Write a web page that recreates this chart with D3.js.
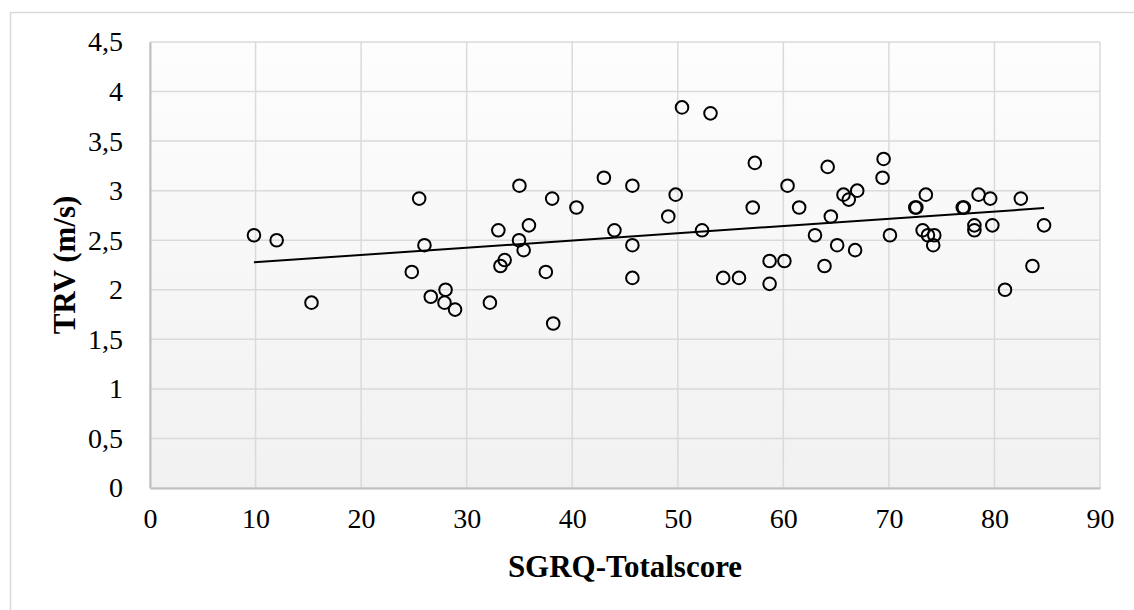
<!DOCTYPE html>
<html>
<head>
<meta charset="utf-8">
<script src="https://cdn.jsdelivr.net/npm/d3@7"></script>
<style>
  body { margin: 0; background: #fff; }
  svg { display: block; }
  text.serif { font-family: 'Liberation Serif', 'Times New Roman', Times, 'DejaVu Serif', serif; }
</style>
</head>
<body>
<div id="chart"></div>
<script>
'use strict';

// data: SGRQ total score vs TRV
const sgrq = [9.85, 12.0, 15.3, 24.8, 25.5, 26.0, 26.6, 28.0, 27.9, 28.9,
  32.2, 33.0, 33.2, 33.6, 35.0, 34.96, 35.4, 35.9, 37.5, 38.1,
  38.2, 40.4, 43.0, 44.0, 45.7, 45.7, 45.7, 49.1, 49.8, 50.4,
  52.3, 53.1, 54.3, 55.8, 57.1, 57.3, 58.7, 58.7, 60.1, 60.4,
  61.5, 63.0, 63.9, 64.2, 64.5, 65.1, 65.7, 66.2, 66.8, 67.0,
  69.4, 69.5, 70.1, 72.5, 72.6, 73.2, 73.5, 73.7, 74.3, 74.2,
  77.0, 77.1, 78.1, 78.1, 78.5, 79.6, 79.8, 81.0, 82.5, 83.6, 84.7];
const trv = [2.55, 2.50, 1.87, 2.18, 2.92, 2.45, 1.93, 2.00, 1.87, 1.80,
  1.87, 2.60, 2.24, 2.30, 3.05, 2.50, 2.40, 2.65, 2.18, 2.92,
  1.66, 2.83, 3.13, 2.60, 3.05, 2.45, 2.12, 2.74, 2.96, 3.84,
  2.60, 3.78, 2.12, 2.12, 2.83, 3.28, 2.29, 2.06, 2.29, 3.05,
  2.83, 2.55, 2.24, 3.24, 2.74, 2.45, 2.96, 2.91, 2.40, 3.00,
  3.13, 3.32, 2.55, 2.83, 2.83, 2.60, 2.96, 2.55, 2.55, 2.45,
  2.83, 2.83, 2.65, 2.60, 2.96, 2.92, 2.65, 2.00, 2.92, 2.24, 2.65];

// linear trendline as drawn in the picture
const trendSlope = 0.00731;
const trendIntercept = 2.205;

const xTicks = [0, 10, 20, 30, 40, 50, 60, 70, 80, 90];
const yTicks = [0, 0.5, 1, 1.5, 2, 2.5, 3, 3.5, 4, 4.5];

const xTitle = 'SGRQ-Totalscore';
const yTitle = 'TRV (m/s)';

//layout
const width = 1134;
const height = 610;
const plot = { left: 150, top: 42, right: 1100, bottom: 488 };

const svg = d3.select('#chart')
  .append('svg')
  .attr('width', width)
  .attr('height', height);

// gradient for the plot area background
const defs = svg.append('defs');
const grad = defs.append('linearGradient')
  .attr('id', 'plotBg')
  .attr('x1', 0).attr('y1', 0).attr('x2', 0).attr('y2', 1);
grad.append('stop').attr('offset', '0%').attr('stop-color', '#fdfdfd');
grad.append('stop').attr('offset', '100%').attr('stop-color', '#f1f1f1');

// outer chart border (runs off right and bottom)
svg.append('rect')
  .attr('x', 10.5).attr('y', 12.5)
  .attr('width', width).attr('height', height)
  .attr('fill', '#fff')
  .attr('stroke', '#d9d9d9')
  .attr('stroke-width', 1.5);

const x = d3.scaleLinear().domain([0, 90]).range([plot.left, plot.right]);
const y = d3.scaleLinear().domain([0, 4.5]).range([plot.bottom, plot.top]);

const locale = d3.formatLocale({ decimal: ',', thousands: '.', grouping: [3], currency: ['', ''] });
const fmt = locale.format('~g');

svg.append('rect')
  .attr('x', plot.left).attr('y', plot.top)
  .attr('width', plot.right - plot.left)
  .attr('height', plot.bottom - plot.top)
  .attr('fill', 'url(#plotBg)');

// gridlines
const grid = svg.append('g').attr('class', 'grid');
grid.selectAll('line.v').data(xTicks).enter().append('line')
  .attr('x1', d => x(d)).attr('x2', d => x(d))
  .attr('y1', plot.top).attr('y2', plot.bottom)
  .attr('stroke', '#dadada').attr('stroke-width', 1.5);
grid.selectAll('line.h').data(yTicks).enter().append('line')
  .attr('x1', plot.left).attr('x2', plot.right)
  .attr('y1', d => y(d)).attr('y2', d => y(d))
  .attr('stroke', '#dadada').attr('stroke-width', 1.5);

// axes with comma decimals
const xAxis = d3.axisBottom(x).tickValues(xTicks).tickSize(0).tickPadding(20).tickFormat(fmt);
const yAxis = d3.axisLeft(y).tickValues(yTicks).tickSize(0).tickPadding(27).tickFormat(fmt);

const gx = svg.append('g')
  .attr('transform', `translate(0, ${plot.bottom})`)
  .call(xAxis);
const gy = svg.append('g')
  .attr('transform', `translate(${plot.left}, 0)`)
  .call(yAxis);

[gx, gy].forEach(g => {
  g.attr('font-family', null).attr('font-size', null);
  g.select('.domain').attr('stroke', '#bfbfbf').attr('stroke-width', 2);
  g.selectAll('text')
    .attr('class', 'serif')
    .attr('font-size', 28)
    .attr('fill', '#000');
});

// trendline
const xMin = d3.min(sgrq);
const xMax = d3.max(sgrq);
svg.append('line')
  .attr('x1', x(xMin)).attr('y1', y(trendIntercept + trendSlope * xMin))
  .attr('x2', x(xMax)).attr('y2', y(trendIntercept + trendSlope * xMax))
  .attr('stroke', '#000')
  .attr('stroke-width', 2);

// points
const pts = sgrq.map((v, i) => ({ x: v, y: trv[i] }));
svg.append('g').selectAll('circle').data(pts).enter().append('circle')
  .attr('cx', d => x(d.x))
  .attr('cy', d => y(d.y))
  .attr('r', 6.3)
  .attr('fill', 'none')
  .attr('stroke', '#000')
  .attr('stroke-width', 2);

// axis titles
svg.append('text')
  .attr('class', 'serif')
  .attr('font-size', 31)
  .attr('font-weight', 'bold')
  .attr('x', (plot.left + plot.right) / 2)
  .attr('y', 577)
  .attr('text-anchor', 'middle')
  .text(xTitle);

svg.append('text')
  .attr('class', 'serif')
  .attr('font-size', 31)
  .attr('font-weight', 'bold')
  .attr('transform', `translate(75, ${(plot.top + plot.bottom) / 2}) rotate(-90)`)
  .attr('text-anchor', 'middle')
  .text(yTitle);
</script>
</body>
</html>
